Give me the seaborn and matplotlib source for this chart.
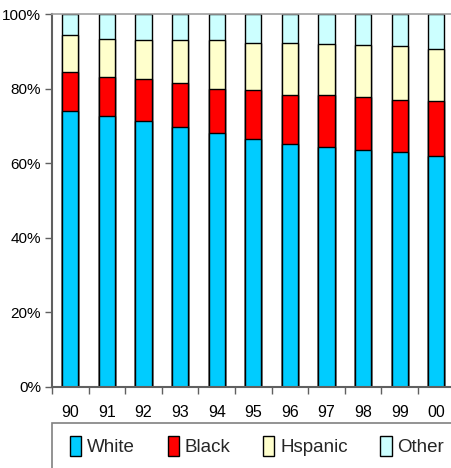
import numpy as np
import pandas as pd
import seaborn as sns
import matplotlib.pyplot as plt
from matplotlib.patches import Rectangle, Patch
from matplotlib import font_manager

years = ["90", "91", "92", "93", "94", "95", "96", "97", "98", "99", "00"]
white = [74.1, 72.5, 71.2, 69.6, 68.1, 66.5, 65.2, 64.2, 63.6, 62.9, 62.0]
black = [10.3, 10.7, 11.3, 11.8, 11.9, 13.0, 13.2, 14.0, 14.2, 13.9, 14.6]
hispanic = [10.0, 10.2, 10.4, 11.5, 12.9, 12.8, 13.9, 13.7, 13.9, 14.5, 14.1]
other = [5.6, 6.6, 7.1, 7.1, 7.1, 7.7, 7.7, 8.1, 8.3, 8.7, 9.3]

groups = ["White", "Black", "Hspanic", "Other"]
colors = ["#00CCFF", "#FF0000", "#FFFFCC", "#CCFFFF"]

sns.set_theme(style="white")
installed = {f.name for f in font_manager.fontManager.ttflist}
fams = [f for f in ["Liberation Sans Narrow", "Liberation Sans", "DejaVu Sans"] if f in installed]
plt.rcParams["font.family"] = fams

df = pd.DataFrame({"year": years, "White": white, "Black": black,
                   "Hspanic": hispanic, "Other": other})
shares = df[groups].to_numpy()
total = shares.sum(axis=1, keepdims=True)
shares = shares / total * 100
cum = np.cumsum(shares, axis=1)

W, H = 452, 468
fig = plt.figure(figsize=(W / 100, H / 100), dpi=100)
ax_left, ax_right = 52 / W, 454.6 / W
ax_bottom, ax_top = (H - 386.7) / H, (H - 14) / H
ax = fig.add_axes([ax_left, ax_bottom, ax_right - ax_left, ax_top - ax_bottom])

# layered cumulative bars, tallest first, give the stacked look
for i in range(len(groups) - 1, -1, -1):
    sns.barplot(x=df["year"], y=cum[:, i], color=colors[i], ax=ax,
                width=0.44, edgecolor="black", linewidth=1.0,
                saturation=1, errorbar=None)

ax.set_xlim(-0.5, len(years) - 0.5)
ax.set_ylim(0, 100)
ax.set_xlabel("")
ax.set_ylabel("")

ax.set_yticks([0, 20, 40, 60, 80, 100])
ax.set_yticklabels(["0%", "20%", "40%", "60%", "80%", "100%"])
ax.set_xticks(range(len(years)))
ax.set_xticklabels(years)
ax.set_xticks(np.arange(-0.5, len(years), 1.0), minor=True)

ax.tick_params(axis="y", which="major", left=True, length=5, width=1,
               color="#606060", pad=3, labelsize=11, labelcolor="black")
ax.tick_params(axis="x", which="major", bottom=False, length=0, pad=13,
               labelsize=11.5, labelcolor="black")
ax.tick_params(axis="x", which="minor", bottom=True, length=5, width=1,
               color="#606060")

for side in ["left", "bottom"]:
    ax.spines[side].set_color("#606060")
    ax.spines[side].set_linewidth(1.5)
ax.spines["top"].set_color("#A0A0A0")
ax.spines["top"].set_linewidth(1.2)
ax.spines["right"].set_visible(False)

# legend frame running past the figure edge
box = Rectangle((52 / W, -0.05), 1.0, (H - 423) / H + 0.05,
                transform=fig.transFigure, facecolor="white",
                edgecolor="#808080", linewidth=1.2)
fig.add_artist(box)

handles = [Patch(facecolor=c, edgecolor="black", linewidth=1.0) for c in colors]
fig.legend(handles, groups, loc="center left",
           bbox_to_anchor=(70 / W, (H - 446) / H), ncol=4, frameon=False,
           fontsize=13.5, handlelength=0.6, handleheight=1.3,
           handletextpad=0.3, columnspacing=1.75, borderaxespad=0,
           borderpad=0)

fig.savefig("out.png", dpi=100)
